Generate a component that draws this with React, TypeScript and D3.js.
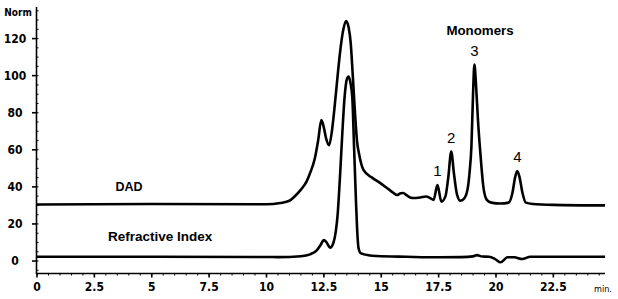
import React from "react";
import * as d3 from "d3";

const W = 618;
const H = 299;

// DAD trace (time in min, signal in Norm)
const dadTime = [0, 5, 10, 10.6, 11.0, 11.2, 11.5, 11.75, 11.9, 12.1, 12.25, 12.39, 12.5, 12.6, 12.73, 12.85, 12.95, 13.1, 13.2, 13.35, 13.47, 13.58, 13.67, 13.76, 13.85, 13.95, 14.03, 14.23, 14.6, 14.96, 15.4, 15.69, 15.85, 15.96, 16.1, 16.34, 16.7, 16.95, 17.15, 17.28, 17.45, 17.62, 17.8, 17.92, 18.05, 18.17, 18.3, 18.45, 18.6, 18.75, 18.85, 18.93, 19.0, 19.06, 19.13, 19.22, 19.32, 19.45, 19.6, 19.8, 20.2, 20.55, 20.72, 20.83, 20.93, 21.03, 21.15, 21.3, 21.6, 22.5, 24.75];
const dadValue = [30.5, 30.8, 30.6, 31.3, 32.5, 34.5, 38.5, 43, 47.5, 55, 65, 76, 72, 66, 62.5, 70, 81, 100, 112, 125, 129.5, 126, 117.5, 100, 81, 64, 58, 49, 45, 42, 38, 35.6, 36.6, 36.7, 35.5, 34, 34.3, 34.8, 33.8, 33, 41, 32, 35, 45, 59, 47, 36, 32.5, 33.5, 38, 48, 62, 90, 106, 95, 75, 58, 40, 33, 31.5, 31, 31.5, 37, 45, 48.5, 45, 37, 31.5, 30.8, 30.3, 30];

// Refractive Index trace
const riTime = [0, 10, 10.5, 11.5, 11.9, 12.2, 12.35, 12.5, 12.62, 12.77, 12.92, 13.02, 13.1, 13.2, 13.3, 13.4, 13.5, 13.58, 13.66, 13.74, 13.82, 13.9, 13.95, 14.01, 14.1, 14.5, 14.8, 16.1, 17.5, 18.5, 19.0, 19.17, 19.4, 19.7, 19.95, 20.2, 20.5, 20.8, 21.14, 21.5, 24.75];
const riValue = [2.3, 2.2, 2.1, 2.6, 3.6, 5.9, 8.5, 11.3, 10, 7.2, 10, 16, 25, 45, 68, 88, 98, 99.5, 96, 88, 60, 32, 17, 7, 4.3, 3.0, 2.7, 2.3, 2.0, 2.1, 2.5, 3.2, 2.4, 2.3, 1.2, -0.7, 2.0, 2.0, 1.1, 2.3, 2.3];

const xTicks = [0, 2.5, 5, 7.5, 10, 12.5, 15, 17.5, 20, 22.5];
const yTicks = [0, 20, 40, 60, 80, 100, 120];

const peakLabels = ["1", "2", "3", "4"];
const peakTimes = [17.45, 18.05, 19.06, 20.93];
const peakHeights = [41, 59, 106, 48.5];

const tickFont = "'Liberation Sans Narrow', 'DejaVu Sans Condensed', 'Arial Narrow', sans-serif";
const labelFont = "'Liberation Sans', Arial, sans-serif";

export default function App() {
  const x = d3.scaleLinear().domain([0, 24.75]).range([37, 605]);
  const y = d3.scaleLinear().domain([-7, 136.5]).range([274, 8]);

  const mk = (ts: number[], vs: number[]) =>
    d3
      .line<number>()
      .x((t) => x(t))
      .y((_, i) => y(vs[i]))
      .curve(d3.curveMonotoneX)(ts) || "";

  const xMinor = d3.range(0, 24.75, 0.5);
  const yMinor = d3.range(-5, 136, 5);

  return (
    <svg
      width={W}
      height={H}
      style={{ position: "fixed", left: 0, top: 0, background: "#fff" }}
      viewBox={`0 0 ${W} ${H}`}
    >
      <rect x={0} y={0} width={W} height={H} fill="#fff" />
      {/* y axis */}
      <line x1={36.5} x2={36.5} y1={7} y2={274} stroke="#000" strokeWidth={1.6} />
      {yMinor.map((v) => (
        <line key={"ym" + v} x1={36.5} x2={38.5} y1={y(v)} y2={y(v)} stroke="#000" strokeWidth={1} />
      ))}
      {yTicks.map((v) => (
        <g key={"y" + v}>
          <line x1={32} x2={36.5} y1={y(v)} y2={y(v)} stroke="#000" strokeWidth={1.6} />
          <text
            x={15}
            y={y(v)}
            dy="0.35em"
            textAnchor="middle"
            fontFamily={tickFont}
            fontWeight="bold"
            fontSize={12}
            fill="#000"
          >
            {v}
          </text>
        </g>
      ))}
      <text x={18} y={16} textAnchor="middle" fontFamily={tickFont} fontWeight="bold" fontSize={10} fill="#000">
        Norm
      </text>
      {/* x axis */}
      <line x1={36} x2={605} y1={273.5} y2={273.5} stroke="#000" strokeWidth={1.6} />
      {xMinor.map((t) => (
        <line key={"xm" + t} x1={x(t)} x2={x(t)} y1={273.5} y2={275.5} stroke="#000" strokeWidth={1} />
      ))}
      {xTicks.map((t) => (
        <g key={"x" + t}>
          <line x1={x(t)} x2={x(t)} y1={273.5} y2={277.5} stroke="#000" strokeWidth={1.6} />
          <text
            x={x(t)}
            y={291}
            textAnchor="middle"
            fontFamily={tickFont}
            fontWeight="bold"
            fontSize={12}
            fill="#000"
          >
            {t}
          </text>
        </g>
      ))}
      <text x={603} y={292} textAnchor="middle" fontFamily={tickFont} fontSize={9} fill="#000">
        min.
      </text>
      {/* traces */}
      <path d={mk(riTime, riValue)} fill="none" stroke="#000" strokeWidth={2.6} strokeLinejoin="round" />
      <path d={mk(dadTime, dadValue)} fill="none" stroke="#000" strokeWidth={2.6} strokeLinejoin="round" />
      {/* labels */}
      <text x={129} y={191} textAnchor="middle" fontFamily={labelFont} fontWeight="bold" fontSize={12.5} fill="#000">
        DAD
      </text>
      <text x={108} y={241} fontFamily={labelFont} fontWeight="bold" fontSize={13.5} fill="#000">
        Refractive Index
      </text>
      <text x={480} y={35} textAnchor="middle" fontFamily={labelFont} fontWeight="bold" fontSize={13.3} fill="#000">
        Monomers
      </text>
      {peakLabels.map((p, i) => (
        <text
          key={p}
          x={x(peakTimes[i])}
          y={y(peakHeights[i]) - 9}
          textAnchor="middle"
          fontFamily={labelFont}
          fontSize={15}
          fill="#000"
        >
          {p}
        </text>
      ))}
    </svg>
  );
}
